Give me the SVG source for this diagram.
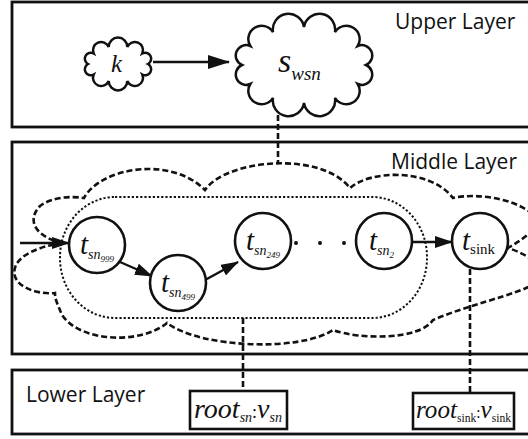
<svg xmlns="http://www.w3.org/2000/svg" width="528" height="439" viewBox="0 0 528 439">
<style>
.frame{fill:#fff;stroke:#111;stroke-width:2.8}
.layer{font-family:"Open Sans","Liberation Sans",sans-serif;font-size:21px;fill:#111}
.node{fill:#fff;stroke:#111;stroke-width:2.6}
.math{font-family:"Liberation Serif",serif;font-style:italic;fill:#111}
.rm{font-style:normal}
.cloud{fill:#fff;stroke:#111;stroke-width:2.5}
.dash{fill:none;stroke:#111;stroke-width:2.6;stroke-dasharray:6 3}
.dot{fill:none;stroke:#111;stroke-width:2;stroke-dasharray:2.2 2}
.edge{fill:none;stroke:#111;stroke-width:2.4}
.box{fill:#fff;stroke:#111;stroke-width:2.6}
</style>
<defs>
<marker id="ah" viewBox="0 0 18 12" refX="17" refY="6" markerWidth="18" markerHeight="12" markerUnits="userSpaceOnUse" orient="auto">
<path d="M0,0 L18,6 L0,12 Z" fill="#111"/>
</marker>
<marker id="ahl" viewBox="0 0 22 14" refX="21" refY="7" markerWidth="22" markerHeight="14" markerUnits="userSpaceOnUse" orient="auto">
<path d="M0,0 L22,7 L0,14 Z" fill="#111"/>
</marker>
</defs>
<rect width="528" height="439" fill="#fff"/>
<g id="upper-layer">
<rect class="frame" x="12" y="2" width="530" height="125"/>
<text class="layer" x="395" y="29">Upper Layer</text>
</g>
<g id="middle-layer">
<rect class="frame" x="12" y="142" width="530" height="212"/>
<text class="layer" x="391" y="169">Middle Layer</text>
</g>
<g id="lower-layer">
<rect class="frame" x="12" y="370" width="530" height="64"/>
<text class="layer" x="26" y="402">Lower Layer</text>
</g>
<g id="middle-cloud">
<path class="dash" d="M63,243 C38,238 25,222 40,206 C52,197 70,196 84,198 C100,168 170,155 205,190 C225,160 320,150 350,188 C370,170 430,168 453,198 C480,192 525,200 540,222 C530,235 518,242 508,248 C520,252 535,258 545,275 C535,292 480,300 433,320 C420,340 360,340 333,330 C300,352 200,348 167,323 C140,345 80,342 62,315 C58,305 55,300 55,293 C35,295 10,285 15,268 C18,255 40,246 63,243 Z"/>
<rect class="dot" x="60" y="197" width="367" height="121" rx="55" ry="60"/>
</g>
<g id="connectors">
<line class="dash" x1="278" y1="115" x2="278" y2="163"/>
<line class="dash" x1="243" y1="318" x2="243" y2="390"/>
<line class="dash" x1="470" y1="269" x2="470" y2="392"/>
<line class="edge" x1="153" y1="62" x2="229" y2="62" marker-end="url(#ahl)"/>
<line class="edge" x1="20" y1="243" x2="69" y2="243" marker-end="url(#ah)"/>
<line class="edge" x1="120" y1="262" x2="152" y2="276" marker-end="url(#ah)"/>
<line class="edge" x1="205" y1="280" x2="238" y2="262" marker-end="url(#ah)"/>
<line class="edge" x1="412" y1="242" x2="452" y2="242" marker-end="url(#ah)"/>
</g>
<g id="k">
<path class="cloud" d="M148,64 A1,1 0 0 1 142.3,74.6 A1,1 0 0 1 127.3,81.1 A1,1 0 0 1 108.7,81.1 A1,1 0 0 1 93.7,74.6 A1,1 0 0 1 88,64 A1,1 0 0 1 93.7,53.4 A1,1 0 0 1 108.7,46.9 A1,1 0 0 1 127.3,46.9 A1,1 0 0 1 142.3,53.4 A1,1 0 0 1 148,64 Z"/>
<text class="math" x="111" y="72" font-size="25">k</text>
</g>
<g id="s_wsn">
<path class="cloud" d="M366,65 A1,1 0 0 1 357.7,84 A1,1 0 0 1 335,97.9 A1,1 0 0 1 304,103 A1,1 0 0 1 273,97.9 A1,1 0 0 1 250.3,84 A1,1 0 0 1 242,65 A1,1 0 0 1 250.3,46 A1,1 0 0 1 273,32.1 A1,1 0 0 1 304,27 A1,1 0 0 1 335,32.1 A1,1 0 0 1 357.7,46 A1,1 0 0 1 366,65 Z"/>
<text class="math" x="278" y="72" font-size="34">s<tspan font-size="19" dy="8">wsn</tspan></text>
</g>
<g id="t_sn999">
<circle class="node" cx="97" cy="245" r="28"/>
<text class="math" x="80" y="254" font-size="29">t<tspan font-size="14" dy="5">sn</tspan><tspan font-size="9" dy="3">999</tspan></text>
</g>
<g id="t_sn499">
<circle class="node" cx="178" cy="283" r="28"/>
<text class="math" x="161" y="292" font-size="29">t<tspan font-size="14" dy="5">sn</tspan><tspan font-size="9" dy="3">499</tspan></text>
</g>
<g id="t_sn249">
<circle class="node" cx="263" cy="241" r="28"/>
<text class="math" x="246" y="250" font-size="29">t<tspan font-size="14" dy="5">sn</tspan><tspan font-size="9" dy="3">249</tspan></text>
</g>
<g id="dots">
<circle cx="296" cy="243" r="2" fill="#111"/>
<circle cx="320" cy="243" r="2" fill="#111"/>
<circle cx="344" cy="243" r="2" fill="#111"/>
</g>
<g id="t_sn2">
<circle class="node" cx="384" cy="241" r="28"/>
<text class="math" x="369" y="250" font-size="29">t<tspan font-size="14" dy="5">sn</tspan><tspan font-size="9" dy="3">2</tspan></text>
</g>
<g id="t_sink">
<circle class="node" cx="480" cy="241" r="28"/>
<text class="math" x="462" y="250" font-size="29">t<tspan class="rm" font-size="15" dy="4">sink</tspan></text>
</g>
<g id="root_sn">
<rect class="box" x="190" y="391" width="97" height="38"/>
<text class="math" x="194" y="418" font-size="28">root<tspan font-size="14" dy="4">sn</tspan><tspan class="rm" font-size="18" dy="-4">:</tspan><tspan>v</tspan><tspan font-size="14" dy="4">sn</tspan></text>
</g>
<g id="root_sink">
<rect class="box" x="413" y="393" width="101" height="36"/>
<text class="math" x="416" y="418" font-size="26" textLength="95" lengthAdjust="spacingAndGlyphs">root<tspan class="rm" font-size="12" dy="4">sink</tspan><tspan class="rm" font-size="16" dy="-4">:</tspan><tspan>v</tspan><tspan class="rm" font-size="12" dy="4">sink</tspan></text>
</g>
</svg>
